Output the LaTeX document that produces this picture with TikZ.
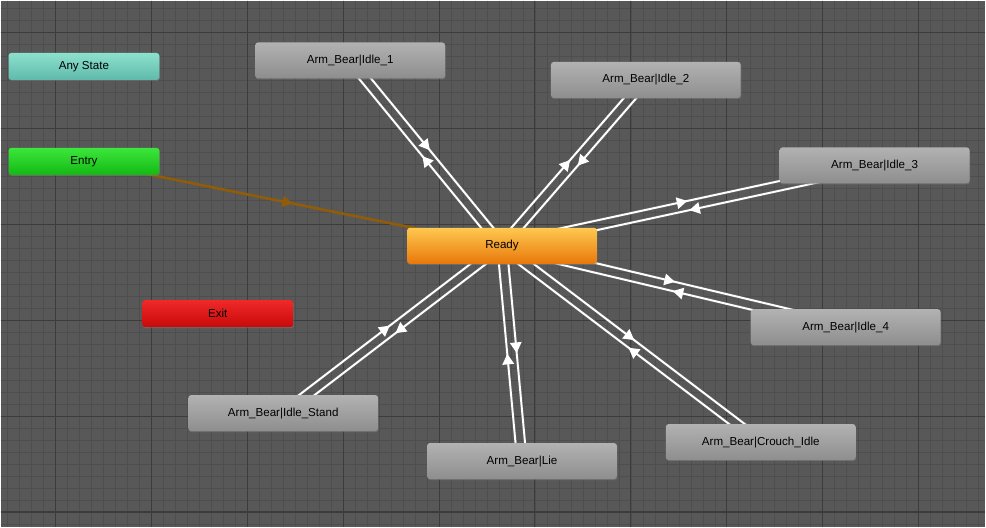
\documentclass[tikz,border=0pt]{standalone}
\usepackage{fontspec}
\setmainfont{Liberation Sans}
\usetikzlibrary{calc,decorations.markings,arrows.meta,shadows}
\pgfdeclarelayer{grid}\pgfdeclarelayer{bg}\pgfsetlayers{grid,bg,main}
\definecolor{bgc}{RGB}{88,88,88}
\definecolor{minc}{RGB}{78,78,78}
\definecolor{majc}{RGB}{60,60,60}
\definecolor{entc}{RGB}{145,92,10}
\begin{document}
\begin{tikzpicture}[x=0.02cm,y=-0.02cm,
 st/.style={draw=none,rounded corners=1.6pt,minimum width=190*0.02cm,minimum height=36*0.02cm,
   font=\fontsize{6.6}{8}\selectfont,text=black,inner sep=0pt,
   drop shadow={shadow xshift=0.3pt,shadow yshift=-0.6pt,opacity=0.5}},
 gray st/.style={st,top color={rgb,255:red,178;green,178;blue,178},bottom color={rgb,255:red,142;green,142;blue,142}},
 small st/.style={st,minimum width=151*0.02cm,minimum height=27*0.02cm},
 tr/.style={draw=white,line width=1.1pt,postaction={decorate},
   decoration={markings,mark=at position 0.5 with {\arrow{Triangle[width=6.5pt,length=6pt,fill=white]}}}},
 trb/.style={draw=black!60,line width=1.7pt}]
\begin{pgfonlayer}{grid}
\fill[bgc] (0,0) rectangle (986,527);
\foreach \x in {7,19,...,986} \draw[minc,line width=0.3pt] (\x,0)--(\x,527);
\foreach \y in {8,20,...,527} \draw[minc,line width=0.3pt] (0,\y)--(986,\y);
\foreach \x in {55,151,...,986} \draw[majc,line width=0.6pt] (\x,0)--(\x,527);
\foreach \y in {32,128,...,527} \draw[majc,line width=0.6pt] (0,\y)--(986,\y);
\end{pgfonlayer}
\useasboundingbox (0,0) rectangle (986,527);

\node[small st,top color={rgb,255:red,140;green,225;blue,205},bottom color={rgb,255:red,95;green,185;blue,170}] (any) at (83.5,66) {Any State};
\node[small st,top color={rgb,255:red,60;green,230;blue,60},bottom color={rgb,255:red,20;green,185;blue,20}] (entry) at (83.5,161) {Entry};
\node[small st,top color={rgb,255:red,240;green,40;blue,40},bottom color={rgb,255:red,200;green,10;blue,10}] (exit) at (217.5,313.5) {Exit};
\node[st,top color={rgb,255:red,255;green,200;blue,80},bottom color={rgb,255:red,232;green,120;blue,10}] (ready) at (502,245.5) {Ready};
\node[gray st] (i1) at (350,60) {Arm\_Bear|Idle\_1};
\node[gray st] (i2) at (646,79.5) {Arm\_Bear|Idle\_2};
\node[gray st] (i3) at (875,165) {Arm\_Bear|Idle\_3};
\node[gray st] (i4) at (846,327) {Arm\_Bear|Idle\_4};
\node[gray st] (is) at (283,413) {Arm\_Bear|Idle\_Stand};
\node[gray st] (lie) at (522,461) {Arm\_Bear|Lie};
\node[gray st] (ci) at (761,442) {Arm\_Bear|Crouch\_Idle};

\begin{pgfonlayer}{bg}
\draw[entc,line width=1.5pt,postaction={decorate},
   decoration={markings,mark=at position 0.5 with {\arrow{Triangle[width=6pt,length=6pt]}}}]
   (entry.center) -- (ready.center);
\foreach \n in {i1,i2,i3,i4,is,lie,ci}{
  \draw[trb] ($(ready.center)!2.7pt!90:(\n.center)$) -- ($(\n.center)!2.7pt!-90:(ready.center)$);
  \draw[tr] ($(ready.center)!2.7pt!90:(\n.center)$) -- ($(\n.center)!2.7pt!-90:(ready.center)$);
  \draw[trb] ($(\n.center)!2.7pt!90:(ready.center)$) -- ($(ready.center)!2.7pt!-90:(\n.center)$);
  \draw[tr] ($(\n.center)!2.7pt!90:(ready.center)$) -- ($(ready.center)!2.7pt!-90:(\n.center)$);
}
\end{pgfonlayer}
\end{tikzpicture}
\end{document}
